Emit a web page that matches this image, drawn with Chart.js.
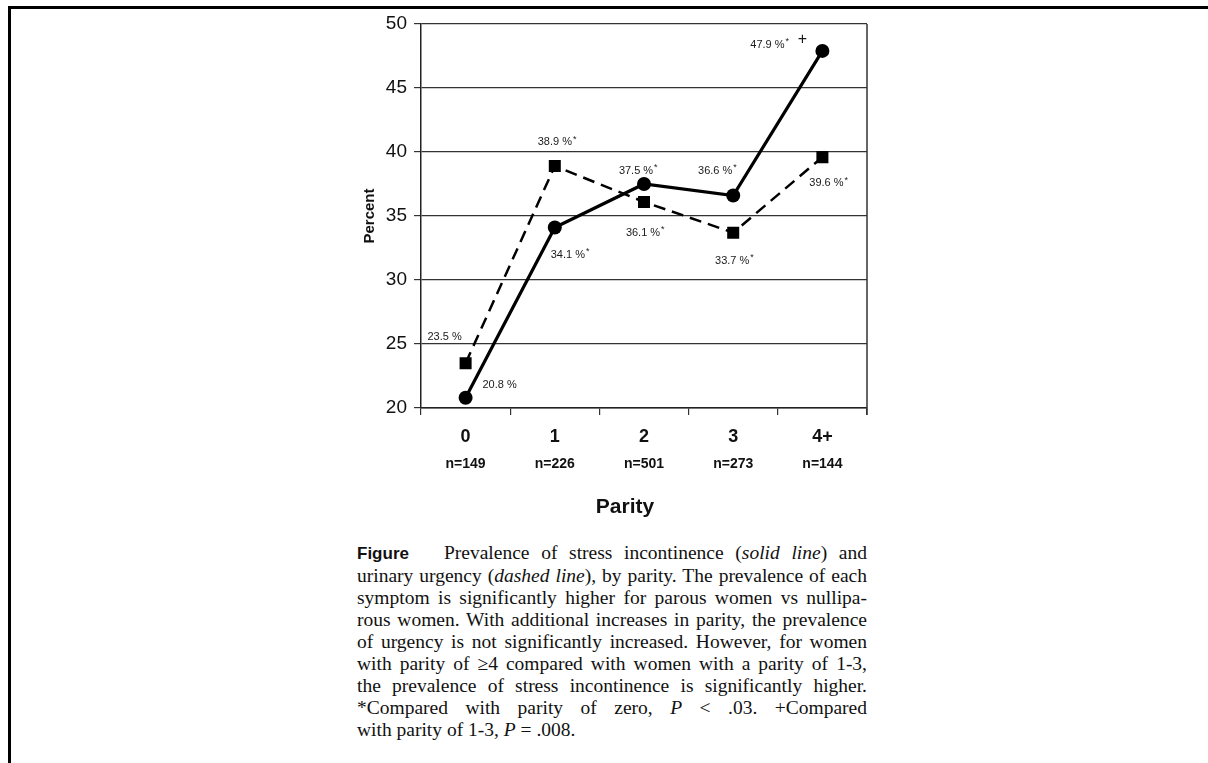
<!DOCTYPE html>
<html lang="en">
<head>
  <meta charset="UTF-8">
  <title>Prevalence by parity</title>
  <script src="https://cdn.jsdelivr.net/npm/chart.js"></script>
  <style>
    * {
      box-sizing: border-box;
      margin: 0;
      padding: 0;
    }

    body {
      width: 1208px;
      height: 763px;
      overflow: hidden;
      background: #fff;
      position: relative;
    }

    .frame {
      position: absolute;
      left: 8px;
      top: 6px;
      width: 1300px;
      height: 900px;
      border-left: 3px solid #000;
      border-top: 3px solid #000;
    }

    .chart-box {
      position: absolute;
      left: 330px;
      top: 0;
      width: 560px;
      height: 520px;
    }

    .caption {
      position: absolute;
      left: 357px;
      top: 542px;
      width: 510px;
      font-family: 'Liberation Serif', 'Times New Roman', serif;
      font-size: 19.5px;
      line-height: 22px;
      color: #111;
    }

    .caption div {
      text-align: justify;
      text-align-last: justify;
    }

    .caption div.last {
      text-align-last: left;
    }

    .caption b {
      font-family: 'Liberation Sans', Arial, sans-serif;
      font-size: 17px;
    }
  </style>
</head>
<body>
  <div class="frame"></div>

  <div class="chart-box">
    <canvas id="parityChart"></canvas>
  </div>

  <div class="caption">
    <div><b>Figure</b> &nbsp; Prevalence of stress incontinence (<i>solid line</i>) and</div>
    <div>urinary urgency (<i>dashed line</i>), by parity. The prevalence of each</div>
    <div>symptom is significantly higher for parous women vs nullipa-</div>
    <div>rous women. With additional increases in parity, the prevalence</div>
    <div>of urgency is not significantly increased. However, for women</div>
    <div>with parity of &ge;4 compared with women with a parity of 1-3,</div>
    <div>the prevalence of stress incontinence is significantly higher.</div>
    <div>*Compared with parity of zero, <i>P</i> &lt; .03. +Compared</div>
    <div class="last">with parity of 1-3, <i>P</i> = .008.</div>
  </div>

  <script>
    const parity = ['0', '1', '2', '3', '4+'];
    const sampleSizes = ['n=149', 'n=226', 'n=501', 'n=273', 'n=144'];
    const stressIncontinence = [20.8, 34.1, 37.5, 36.6, 47.9];
    const urinaryUrgency = [23.5, 38.9, 36.1, 33.7, 39.6];
    // significance vs parity 0 (*), and vs parity 1-3 (+)
    const stressStar = [false, true, true, true, true];
    const urgencyStar = [false, true, true, true, true];
    const stressPlus = [false, false, false, false, true];
    const yTicks = [20, 25, 30, 35, 40, 45, 50];

    // where each value label sits relative to its point (px)
    const labelOffsets = [
      [[34, -13], [13, 27], [-8, -13], [-18, -25], [-55, -6]],
      [[-21, -26], [0, -24], [-1, 31], [-1, 28], [4, 26]]
    ];
    const plusOffset = [-20, -11];

    const pointLabels = {
      id: 'pointLabels',
      afterDatasetsDraw(chart) {
        const ctx = chart.ctx;
        const stars = [stressStar, urgencyStar];
        ctx.save();
        ctx.fillStyle = '#1a1a1a';
        ctx.textBaseline = 'middle';
        chart.data.datasets.forEach((ds, di) => {
          const meta = chart.getDatasetMeta(di);
          meta.data.forEach((pt, i) => {
            const text = ds.data[i].toFixed(1) + ' %';
            const [dx, dy] = labelOffsets[di][i];
            ctx.font = '11px "Liberation Sans", Arial, sans-serif';
            ctx.textAlign = 'center';
            const w = ctx.measureText(text).width;
            const cx = pt.x + dx;
            const cy = pt.y + dy;
            ctx.fillText(text, cx, cy);
            if (stars[di][i]) {
              ctx.font = '9px "Liberation Sans", Arial, sans-serif';
              ctx.textAlign = 'left';
              ctx.fillText('*', cx + w / 2 + 1, cy - 3);
            }
            if (di === 0 && stressPlus[i]) {
              ctx.font = '16px "Liberation Sans", Arial, sans-serif';
              ctx.textAlign = 'center';
              ctx.fillText('+', pt.x + plusOffset[0], pt.y + plusOffset[1]);
            }
          });
        });
        const a = chart.chartArea;
        // right edge of the plot frame
        ctx.strokeStyle = '#333';
        ctx.lineWidth = 1.5;
        ctx.beginPath();
        ctx.moveTo(a.right, a.top);
        ctx.lineTo(a.right, a.bottom + 7);
        ctx.stroke();
        // axis title, set a little left of centre as in the original
        ctx.fillStyle = '#111';
        ctx.font = 'bold 21px "Liberation Sans", Arial, sans-serif';
        ctx.textAlign = 'center';
        ctx.fillText('Parity', (a.left + a.right) / 2 - 19, a.bottom + 99);
        ctx.restore();
      }
    };

    new Chart(document.getElementById('parityChart'), {
      type: 'line',
      data: {
        labels: parity,
        datasets: [
          {
            label: 'Stress incontinence',
            data: stressIncontinence,
            borderColor: '#000',
            backgroundColor: '#000',
            borderWidth: 3.2,
            tension: 0,
            pointStyle: 'circle',
            pointRadius: 7,
            pointBorderWidth: 0
          },
          {
            label: 'Urinary urgency',
            data: urinaryUrgency,
            borderColor: '#000',
            backgroundColor: '#000',
            borderWidth: 2.5,
            borderDash: [12, 7],
            tension: 0,
            pointStyle: 'rect',
            pointRadius: 8.5,
            pointBorderWidth: 0
          }
        ]
      },
      options: {
        responsive: true,
        maintainAspectRatio: false,
        animation: false,
        layout: {
          padding: { left: 0, top: 24, right: 23, bottom: 0 }
        },
        plugins: {
          legend: { display: false },
          tooltip: { enabled: false }
        },
        scales: {
          x: {
            type: 'category',
            offset: true,
            grid: {
              offset: true,
              drawOnChartArea: false,
              drawTicks: true,
              tickLength: 7,
              color: '#333',
              lineWidth: 1.2
            },
            border: { display: true, color: '#222', width: 1.5 },
            ticks: {
              color: '#111',
              padding: 11,
              font: { family: '"Liberation Sans", Arial, sans-serif', size: 18, weight: 'bold' }
            },
            afterFit: (scale) => { scale.height = 42; }
          },
          x2: {
            type: 'category',
            position: 'bottom',
            labels: sampleSizes,
            offset: true,
            grid: { display: false, drawTicks: false },
            border: { display: false },
            ticks: {
              color: '#111',
              padding: 6,
              font: { family: '"Liberation Sans", Arial, sans-serif', size: 14, weight: 'bold' }
            },
            afterFit: (scale) => { scale.height = 70; }
          },
          y: {
            min: 20,
            max: 50,
            afterBuildTicks: (scale) => { scale.ticks = yTicks.map(v => ({ value: v })); },
            grid: {
              color: '#333',
              lineWidth: 1.2,
              drawTicks: true,
              tickLength: 7
            },
            border: { display: true, color: '#222', width: 1.5 },
            ticks: {
              color: '#111',
              padding: 7,
              font: { family: '"Liberation Sans", Arial, sans-serif', size: 19 }
            },
            title: {
              display: true,
              text: 'Percent',
              color: '#111',
              padding: { top: 31, bottom: 0 },
              font: { family: '"Liberation Sans", Arial, sans-serif', size: 15, weight: 'bold' }
            },
            afterFit: (scale) => { scale.width = 91; }
          }
        }
      },
      plugins: [pointLabels]
    });
  </script>
</body>
</html>
